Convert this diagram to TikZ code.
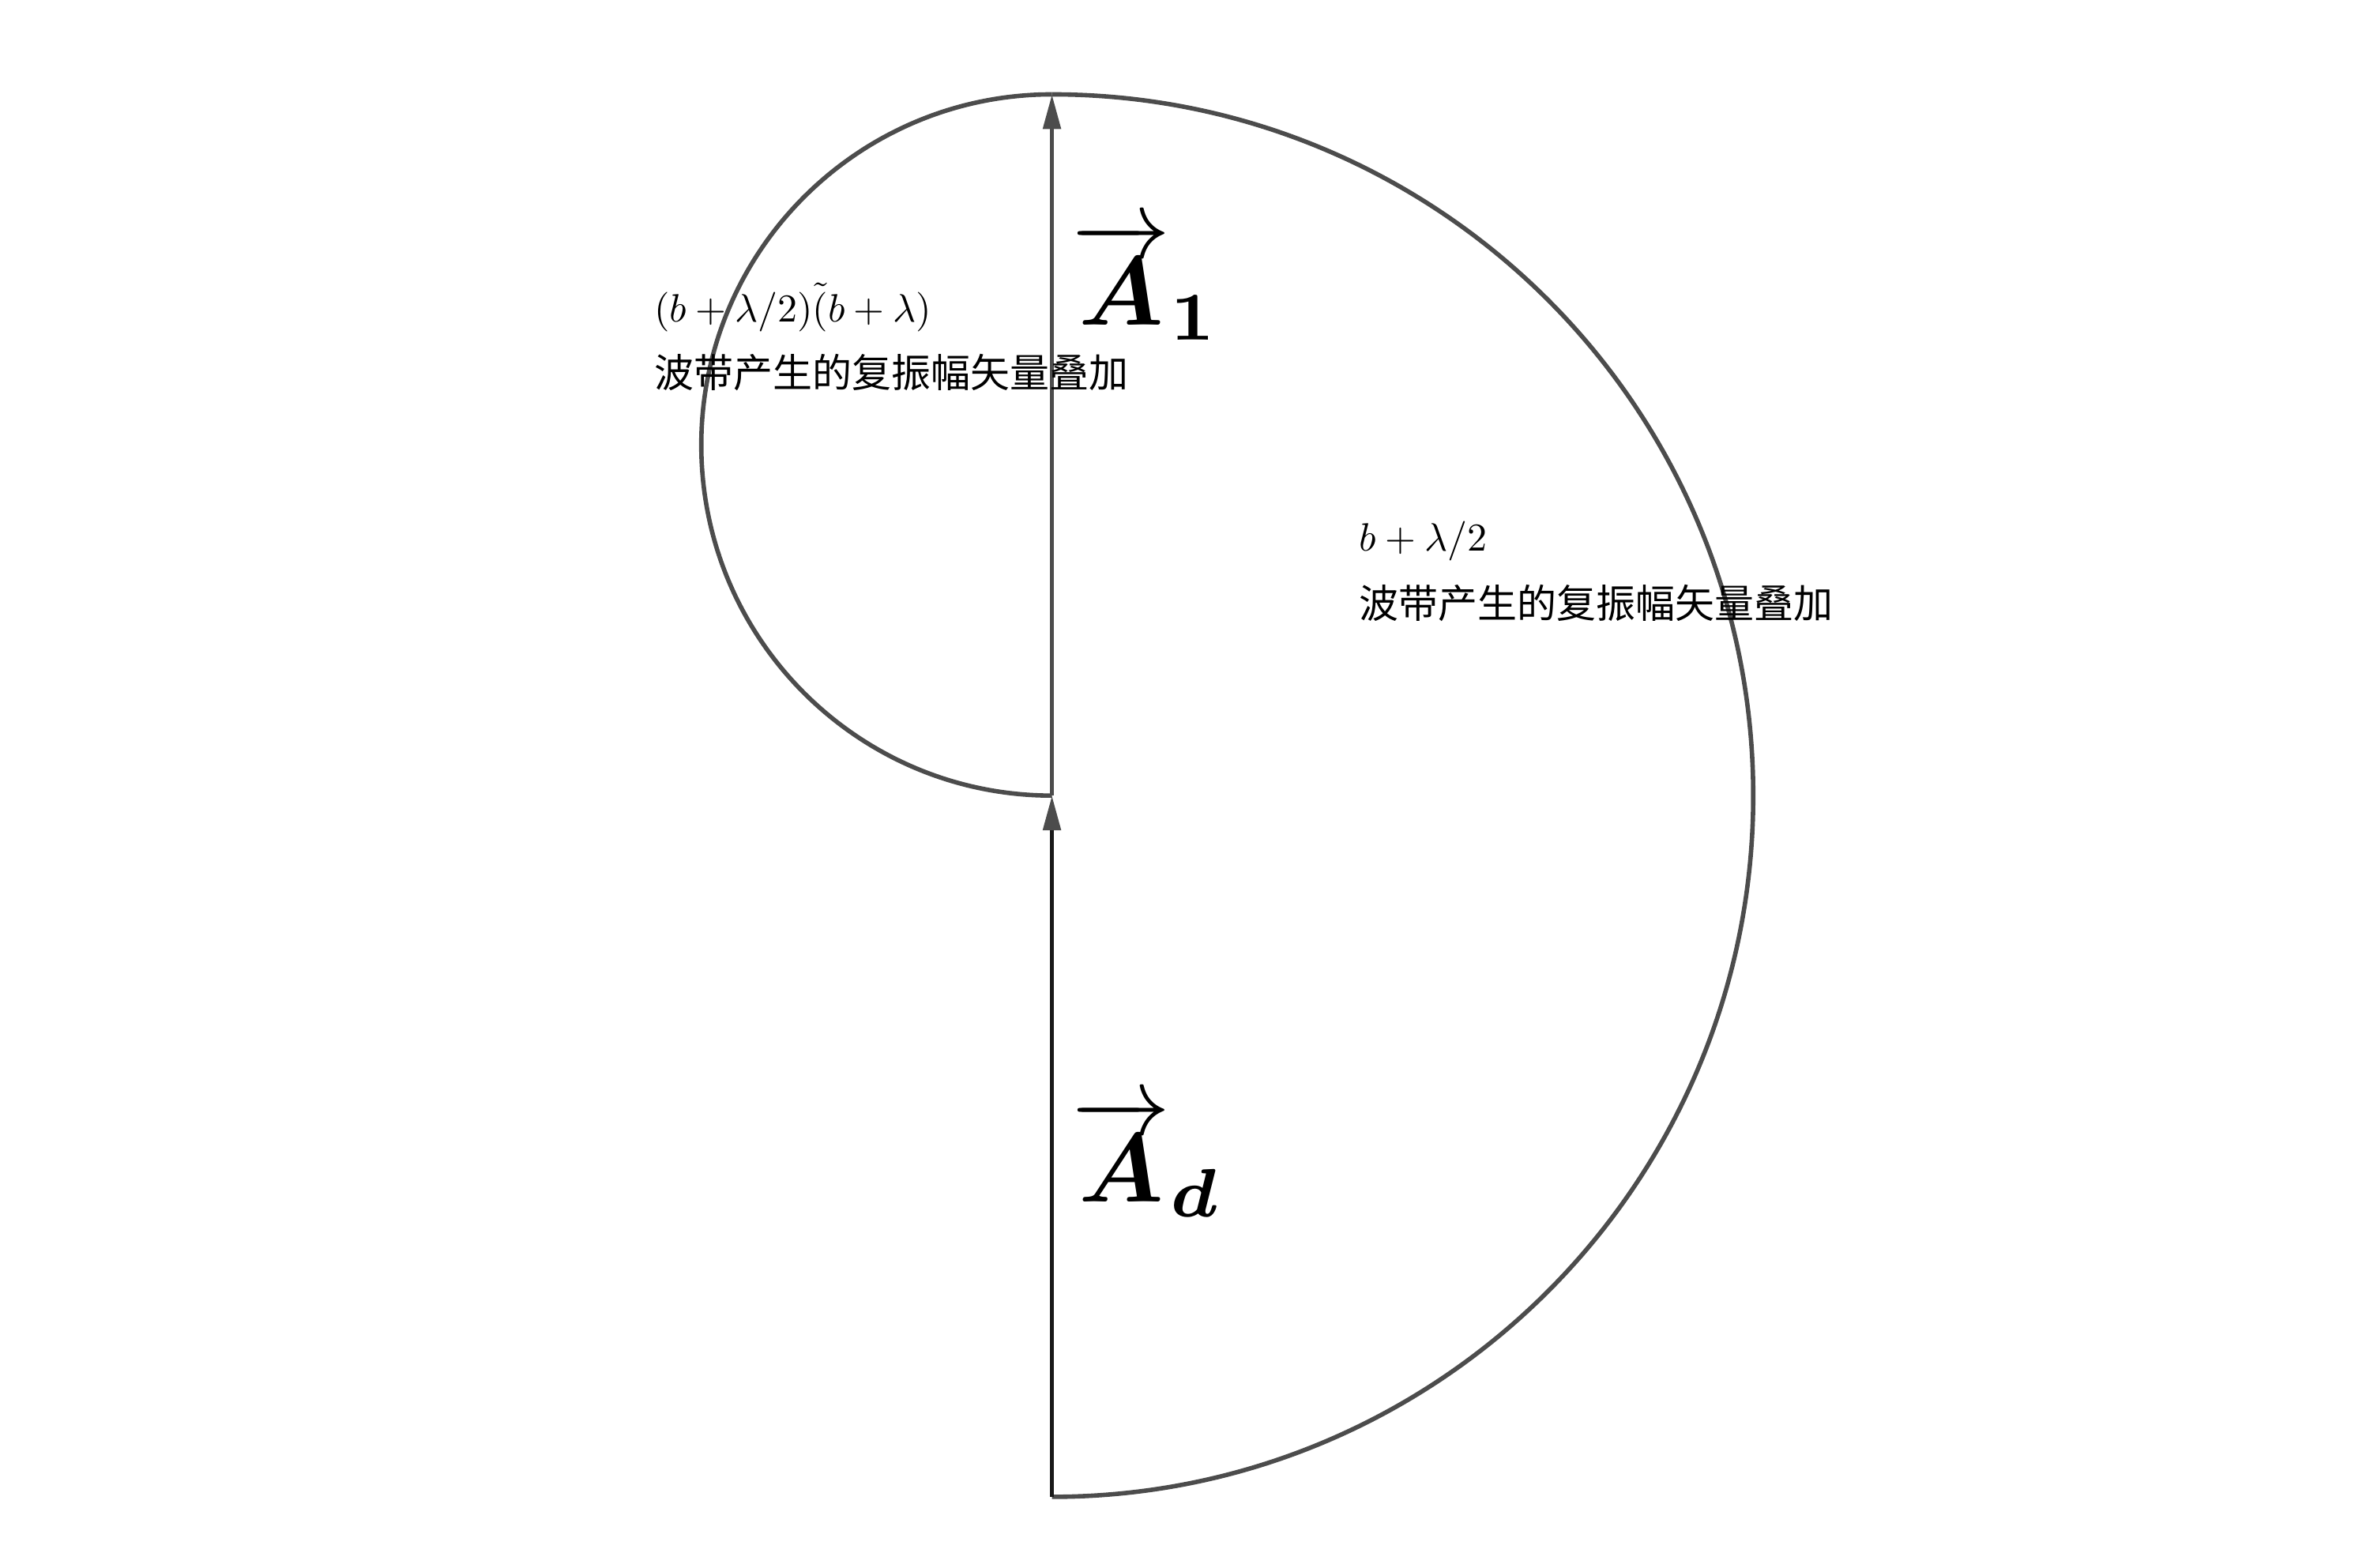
\documentclass[tikz,border=0pt]{standalone}
\usepackage{amsmath}
\usepackage{amssymb}
\usepackage{fontspec}
\newfontfamily\cjk{Noto Sans CJK SC}
\usepackage{tikz}
\usetikzlibrary{arrows.meta, positioning}

\begin{document}
\begin{tikzpicture}[
    vec/.style={-{Triangle[length=11pt, width=5.5pt, color=black!70]}, line width=1.4pt},
    arc/.style={line width=1.4pt, black!70},
    lbl/.style={inner sep=0pt},
    big/.style={inner sep=0pt}
]
\useasboundingbox (-11.70,-0.79) rectangle (14.66,16.65);
\coordinate (O) at (0,0);
\coordinate (M) at (0,7.8);
\coordinate (T) at (0,15.6);
% half circles
\draw[arc] (O) arc[start angle=-90, end angle=90, radius=7.8];
\draw[arc] (M) arc[start angle=-90, end angle=-270, radius=3.9];
% amplitude vectors
\draw[vec, black!90] (O) -- (M);
\draw[vec, black!70] (M) -- (T);
\node[big, anchor=base west] (a1) at (0.22,13.03) {\scalebox{3.1}{$\overrightarrow{\boldsymbol{A}}_{\boldsymbol{1}}$}};
\node[big, anchor=base west] (ad) at (0.22,3.28) {\scalebox{3.1}{$\overrightarrow{\boldsymbol{A}}_{\boldsymbol{d}}$}};
% labels
\node[lbl, anchor=base west] (zoneb) at (-4.43,13.07) {\scalebox{1.25}{$(b+\lambda/2)\tilde(b+\lambda)$}};
\node[lbl, anchor=base west] (zonebtxt) at (-4.43,12.34) {\scalebox{1.25}{\cjk 波带产生的复振幅矢量叠加}};
\node[lbl, anchor=base west] (zonea) at (3.41,10.52) {\scalebox{1.25}{$b+\lambda/2$}};
\node[lbl, anchor=base west] (zoneatxt) at (3.41,9.77) {\scalebox{1.25}{\cjk 波带产生的复振幅矢量叠加}};
\end{tikzpicture}
\end{document}
